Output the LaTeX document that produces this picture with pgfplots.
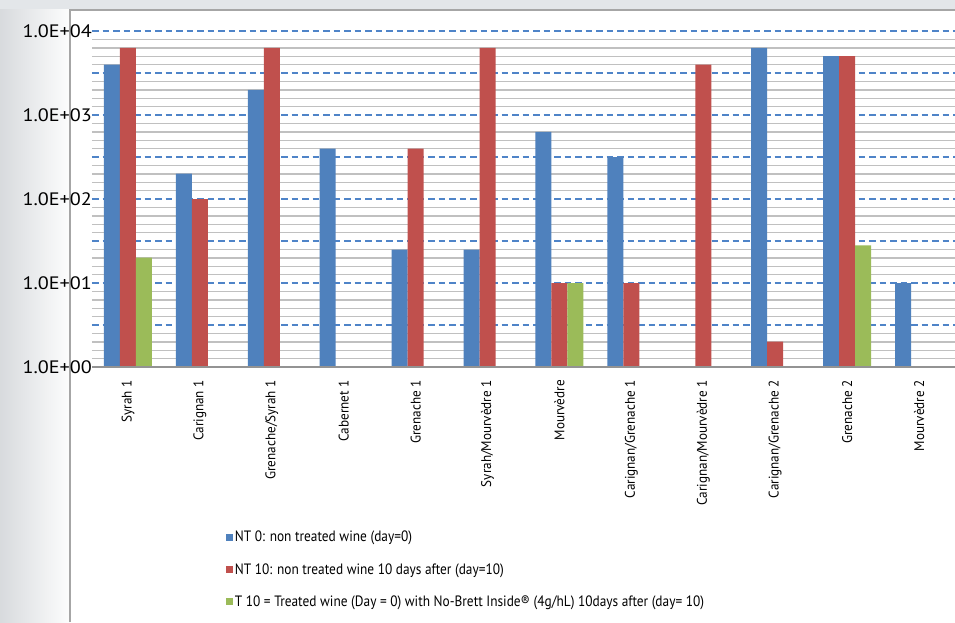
\documentclass[border=0pt]{standalone}
\usepackage{pgfplots}
\pgfplotsset{compat=1.18}
\usepackage{fontspec}
\setmainfont{PT Sans}[FakeStretch=0.9]
\newfontfamily\ytfont{PT Sans}[FakeStretch=1.12]
\newfontfamily\xtfont{PT Sans}[FakeStretch=0.94]
\newfontfamily\lgfont{PT Sans}[FakeStretch=0.89]
\definecolor{cblue}{HTML}{4F81BD}
\definecolor{cred}{HTML}{C0504D}
\definecolor{cgreen}{HTML}{9BBB59}
\definecolor{gridgray}{HTML}{C0C0C0}
\definecolor{dashblue}{HTML}{4F84C8}
\definecolor{bgg}{HTML}{E3E6E9}
\definecolor{bordergray}{HTML}{A6A6A6}
\begin{document}
\begin{tikzpicture}
\useasboundingbox (0,0) rectangle (955pt,622pt);
\fill[bgg] (0,0) rectangle (955pt,622pt);
\shade[left color=bgg!95!black, right color=white!92!bgg] (0,0) rectangle (70pt,612pt);
\fill[white] (70pt,0) rectangle (955pt,612pt);
\draw[bordergray, line width=1.5pt] (70pt,0) -- (70pt,612pt) -- (955pt,612pt);
\begin{axis}[
  at={(92pt,255pt)}, anchor=south west,
  scale only axis, width=863pt, height=336pt,
  ymode=log, ymin=1, ymax=10000,
  xmin=-0.5, xmax=11.5,
  clip=false,
  axis line style={draw=none},
  after end axis/.code={\draw[gray!85, line width=1.5pt] (rel axis cs:0,0) -- (rel axis cs:1,0);},
  major tick length=0pt, minor tick length=0pt,
  ytick={1,10,100,1000,10000},
  yticklabels={1.0E+00,1.0E+01,1.0E+02,1.0E+03,1.0E+04},
  minor ytick={1.2589,1.5849,1.9953,2.5119,3.9811,5.0119,6.3096,7.9433,
    12.589,15.849,19.953,25.119,39.811,50.119,63.096,79.433,
    125.89,158.49,199.53,251.19,398.11,501.19,630.96,794.33,
    1258.9,1584.9,1995.3,2511.9,3981.1,5011.9,6309.6,7943.3},
  ymajorgrids=false, yminorgrids,
  minor grid style={draw=gridgray, line width=1.4pt},
  yticklabel style={font=\ytfont\fontsize{18}{20}\selectfont, inner sep=0pt, anchor=east},
  xtick={0,...,11},
  xticklabels={Syrah 1,Carignan 1,Grenache/Syrah 1,Cabernet 1,Grenache 1,Syrah/Mourvèdre 1,Mourvèdre,Carignan/Grenache 1,Carignan/Mourvèdre 1,Carignan/Grenache 2,Grenache 2,Mourvèdre 2},
  xticklabel style={font=\xtfont\fontsize{14}{16}\selectfont, rotate=90, anchor=east, inner sep=0pt},
  xticklabel shift=13pt,
  legend style={at={(axis description cs:0.152,-0.478)}, anchor=north west,
    draw=none, fill=none, font=\lgfont\fontsize{15}{17}\selectfont,
    row sep=17pt, nodes={inner sep=1.5pt}, legend cell align=left},
  legend image code/.code={\fill[#1,draw=none] (0pt,-3.5pt) rectangle (7pt,3.5pt);},
]
% half-decade reference lines (dashed blue), drawn before the bars
\addplot[forget plot, mark=none, draw=dashblue, line width=1.2pt, dash pattern=on 6.5pt off 4pt, unbounded coords=jump]
  coordinates {(-0.5,3.1623) (11.5,3.1623) (nan,nan)
               (-0.5,10) (11.5,10) (nan,nan)
               (-0.5,31.623) (11.5,31.623) (nan,nan)
               (-0.5,100) (11.5,100) (nan,nan)
               (-0.5,316.23) (11.5,316.23) (nan,nan)
               (-0.5,1000) (11.5,1000) (nan,nan)
               (-0.5,3162.3) (11.5,3162.3) (nan,nan)
               (-0.5,10000) (11.5,10000)};
\addplot[ybar, bar width=16pt, bar shift=-16pt, fill=cblue, draw=none]
  coordinates {(0,3981) (1,200) (2,1995) (3,398) (4,25) (5,25) (6,631) (7,316) (9,6310) (10,5012) (11,10)};
\addlegendentry{NT 0: non treated wine (day=0)}
\addplot[ybar, bar width=16pt, bar shift=0pt, fill=cred, draw=none]
  coordinates {(0,6310) (1,100) (2,6310) (4,398) (5,6310) (6,10) (7,10) (8,3981) (9,2) (10,5012)};
\addlegendentry{NT 10: non treated wine 10 days after (day=10)}
\addplot[ybar, bar width=16pt, bar shift=16pt, fill=cgreen, draw=none]
  coordinates {(0,20) (6,10) (10,28)};
\addlegendentry{T 10 = Treated wine (Day = 0) with No-Brett Inside® (4g/hL) 10days after (day= 10)}
\end{axis}
\end{tikzpicture}
\end{document}
